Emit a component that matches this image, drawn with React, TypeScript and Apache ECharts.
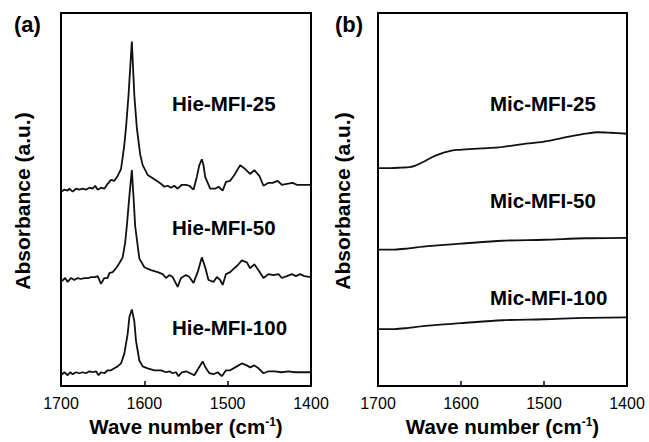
import React, { useEffect, useRef } from "react";
import * as echarts from "echarts";

// IR spectra of adsorbed pyridine, stacked with vertical offsets (a.u.)
const waveTicks = [1700, 1600, 1500, 1400];

const hie25: [number, number][] = [
  [1700, 198], [1696, 200], [1692, 199], [1690, 201], [1686, 198], [1682, 201], [1678, 200],
  [1674, 201], [1670, 200], [1666, 202], [1662, 201], [1659, 204], [1656, 200], [1652, 202],
  [1648, 201], [1644, 206], [1640, 210], [1636, 209], [1632, 214], [1628, 221], [1626, 233],
  [1624, 246], [1622, 263], [1619, 296], [1615, 351], [1612, 296], [1609, 263], [1605, 236],
  [1602, 225], [1596, 215], [1587, 210], [1580, 206], [1576, 203], [1572, 204], [1568, 202],
  [1564, 204], [1560, 201], [1555, 205], [1550, 205], [1546, 204], [1541, 200], [1537, 213],
  [1534, 225], [1531, 231], [1529, 225], [1527, 213], [1521, 201], [1515, 201], [1511, 203],
  [1506, 199], [1502, 208], [1497, 209], [1492, 215], [1485, 225], [1479, 221], [1473, 216],
  [1468, 220], [1462, 214], [1457, 204], [1451, 207], [1446, 207], [1440, 209], [1435, 205],
  [1429, 206], [1422, 207], [1417, 205], [1411, 205], [1405, 205], [1400, 205],
];

const hie50: [number, number][] = [
  [1700, 106], [1695, 110], [1692, 106], [1688, 110], [1684, 108], [1680, 110], [1676, 109],
  [1672, 110], [1667, 110], [1664, 111], [1659, 111], [1656, 112], [1652, 104], [1648, 110],
  [1644, 110], [1642, 115], [1638, 116], [1634, 120], [1630, 125], [1626, 131], [1623, 146],
  [1621, 163], [1618, 193], [1615, 220], [1613, 193], [1611, 163], [1608, 143], [1606, 130],
  [1600, 121], [1592, 118], [1584, 116], [1578, 114], [1574, 110], [1570, 113], [1566, 111],
  [1560, 101], [1556, 110], [1550, 113], [1546, 111], [1541, 105], [1536, 116], [1531, 131],
  [1527, 121], [1523, 108], [1517, 106], [1513, 111], [1509, 108], [1506, 103], [1502, 114],
  [1497, 116], [1492, 120], [1488, 123], [1483, 128], [1477, 126], [1473, 120], [1468, 124],
  [1463, 118], [1457, 110], [1451, 114], [1445, 113], [1439, 114], [1435, 110], [1429, 112],
  [1423, 114], [1418, 112], [1413, 114], [1408, 112], [1400, 111],
];

const hie100: [number, number][] = [
  [1700, 11], [1696, 14], [1692, 11], [1689, 14], [1686, 12], [1682, 14], [1678, 13],
  [1674, 14], [1670, 13], [1666, 15], [1662, 14], [1658, 15], [1655, 11], [1652, 14],
  [1648, 13], [1644, 16], [1640, 16], [1636, 18], [1632, 20], [1628, 23], [1624, 33],
  [1620, 53], [1618, 70], [1615, 78], [1612, 66], [1610, 46], [1606, 26], [1602, 20],
  [1596, 18], [1588, 16], [1580, 16], [1574, 14], [1570, 15], [1566, 13], [1562, 14],
  [1559, 10], [1555, 14], [1550, 15], [1545, 13], [1540, 11], [1535, 18], [1530, 25],
  [1526, 18], [1522, 13], [1517, 12], [1512, 14], [1507, 10], [1502, 16], [1497, 16],
  [1491, 19], [1483, 23], [1477, 21], [1473, 19], [1468, 21], [1463, 18], [1457, 13],
  [1451, 15], [1444, 15], [1435, 14], [1427, 15], [1419, 14], [1411, 14], [1400, 14],
];

const mic25: [number, number][] = [
  [1700, 222], [1685, 222], [1672, 222.5], [1662, 223], [1655, 224.5], [1645, 228.5],
  [1635, 233], [1625, 236.5], [1615, 239], [1605, 240.5], [1595, 241], [1575, 242],
  [1555, 243], [1530, 246], [1500, 249], [1470, 254], [1450, 257], [1435, 258.5],
  [1420, 258], [1400, 257],
];
const mic50: [number, number][] = [
  [1700, 139], [1680, 139], [1665, 140], [1640, 142.5], [1600, 145], [1550, 148], [1500, 149],
  [1450, 150.5], [1400, 151],
];
const mic100: [number, number][] = [
  [1700, 58], [1680, 58], [1665, 59], [1640, 61.5], [1600, 64], [1550, 67], [1500, 68],
  [1450, 69.5], [1400, 70],
];

const hieNames = ["Hie-MFI-25", "Hie-MFI-50", "Hie-MFI-100"];
const micNames = ["Mic-MFI-25", "Mic-MFI-50", "Mic-MFI-100"];
const panelTags = ["(a)", "(b)"];
const yTitle = "Absorbance (a.u.)";

const FONT = "'Liberation Sans', Arial, Helvetica, sans-serif";
const INK = "#000";

export default function App() {
  const ref = useRef<HTMLDivElement>(null);

  useEffect(() => {
    if (!ref.current) return;
    const chart = echarts.init(ref.current, undefined, { renderer: "svg" });

    const grids = [
      { left: 61, top: 13, width: 250, height: 379 },
      { left: 378, top: 13, width: 249, height: 379 },
    ];

    const xAxisFor = (gridIndex: number) => ({
      type: "value",
      gridIndex,
      min: waveTicks[waveTicks.length - 1],
      max: waveTicks[0],
      interval: 100,
      inverse: true,
      axisLine: { show: false },
      axisTick: { show: true, inside: true, length: 5, lineStyle: { color: INK, width: 1.5 } },
      axisLabel: {
        color: INK,
        fontSize: 16,
        fontFamily: FONT,
        margin: 9,
        formatter: (v: number) => String(v),
      },
      splitLine: { show: false },
      name: "{t|Wave number (cm}{s|-1}{t|)}",
      nameLocation: "middle",
      nameGap: 30,
      nameTextStyle: {
        rich: {
          t: { fontSize: 20.5, fontWeight: "bold", fontFamily: FONT, color: INK, lineHeight: 21 },
          s: { fontSize: 12, fontWeight: "bold", fontFamily: FONT, color: INK, verticalAlign: "top", lineHeight: 21 },
        },
      },
    });

    const yAxisFor = (gridIndex: number) => ({
      type: "value",
      gridIndex,
      min: 0,
      max: 380,
      show: false,
    });

    const lineSeries = (data: [number, number][], idx: number, smooth: boolean | number) => ({
      type: "line",
      xAxisIndex: idx,
      yAxisIndex: idx,
      data,
      showSymbol: false,
      smooth,
      lineStyle: { color: "#111", width: 1.8 },
      silent: true,
    });

    const label = (text: string, x: number, y: number) => ({
      type: "text",
      x,
      y,
      style: { text, fontSize: 20.5, fontWeight: "bold", fontFamily: FONT, fill: INK, verticalAlign: "middle" },
    });

    const yTitleAt = (x: number) => ({
      type: "text",
      x,
      y: 201,
      rotation: Math.PI / 2,
      style: {
        text: yTitle,
        fontSize: 21,
        fontWeight: "bold",
        fontFamily: FONT,
        fill: INK,
        align: "center",
        verticalAlign: "middle",
      },
    });

    const tag = (text: string, x: number) => ({
      type: "text",
      x,
      y: 24,
      style: { text, fontSize: 22, fontWeight: "bold", fontFamily: FONT, fill: INK, verticalAlign: "middle" },
    });

    chart.setOption({
      animation: false,
      backgroundColor: "#fff",
      grid: grids.map((g) => ({ ...g, show: true, borderColor: INK, borderWidth: 2, backgroundColor: "transparent" })),
      xAxis: [xAxisFor(0), xAxisFor(1)],
      yAxis: [yAxisFor(0), yAxisFor(1)],
      series: [
        lineSeries(hie25, 0, false),
        lineSeries(hie50, 0, false),
        lineSeries(hie100, 0, false),
        lineSeries(mic25, 1, 0.3),
        lineSeries(mic50, 1, 0.3),
        lineSeries(mic100, 1, 0.3),
      ],
      graphic: [
        tag(panelTags[0], 14),
        tag(panelTags[1], 335),
        yTitleAt(22),
        yTitleAt(342),
        label(hieNames[0], 172, 103),
        label(hieNames[1], 172, 227),
        label(hieNames[2], 172, 327),
        label(micNames[0], 490, 103),
        label(micNames[1], 490, 200),
        label(micNames[2], 490, 297),
      ],
    });

    return () => chart.dispose();
  }, []);

  return (
    <div
      ref={ref}
      style={{ position: "fixed", left: 0, top: 0, width: 649, height: 442, background: "#fff" }}
    />
  );
}
